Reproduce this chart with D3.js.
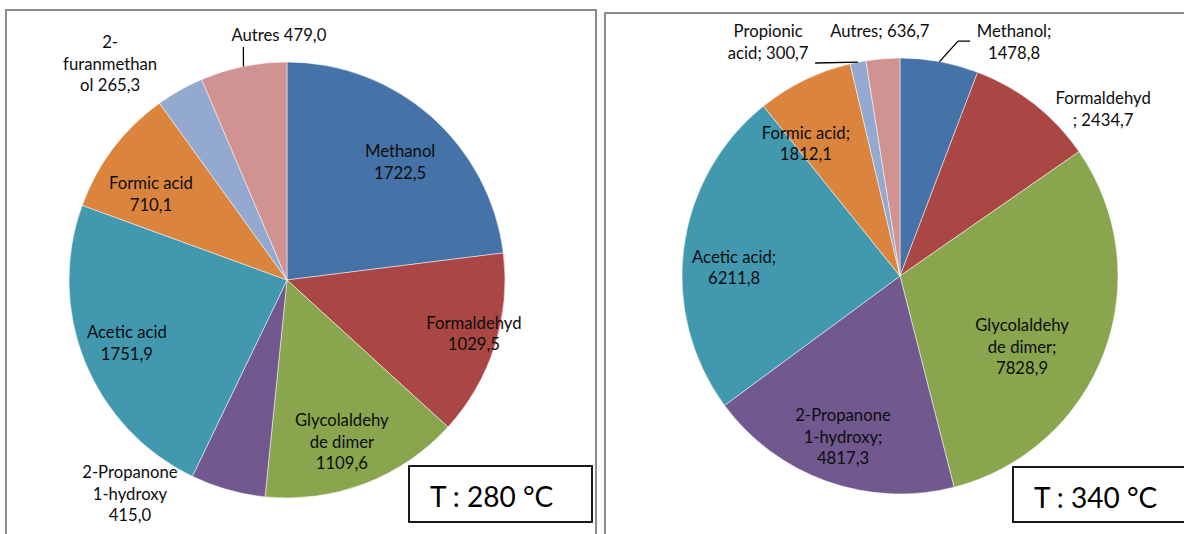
<!DOCTYPE html>
<html><head><meta charset="utf-8">
<script src="https://cdn.jsdelivr.net/npm/d3@7"></script>
<style>body{margin:0;background:#fff}svg{display:block}</style>
</head><body>
<svg id="chart" width="1184" height="534"></svg>
<script>
// ---------- DATA ----------
const categories280 = ["Methanol","Formaldehyd","Glycolaldehyde dimer","2-Propanone 1-hydroxy","Acetic acid","Formic acid","2-furanmethanol","Autres"];
const values280 = [1722.5, 1029.5, 1109.6, 415.0, 1751.9, 710.1, 265.3, 479.0];
const labelLines280 = [["Methanol","{v}"],["Formaldehyd","{v}"],["Glycolaldehy","de dimer","{v}"],["2-Propanone","1-hydroxy","{v}"],["Acetic acid","{v}"],["Formic acid","{v}"],["2-","furanmethan","ol {v}"],["Autres {v}"]];

const categories340 = ["Methanol","Formaldehyd","Glycolaldehyde dimer","2-Propanone 1-hydroxy","Acetic acid","Formic acid","Propionic acid","Autres"];
const values340 = [1478.8, 2434.7, 7828.9, 4817.3, 6211.8, 1812.1, 300.7, 636.7];
const labelLines340 = [["Methanol;","{v}"],["Formaldehyd","; {v}"],["Glycolaldehy","de dimer;","{v}"],["2-Propanone","1-hydroxy;","{v}"],["Acetic acid;","{v}"],["Formic acid;","{v}"],["Propionic","acid; {v}"],["Autres; {v}"]];

const titles = ["T : 280 °C", "T : 340 °C"];

// ---------- LAYOUT / STYLE ----------
const colors = ["#4572A7","#AA4643","#89A54E","#71588F","#4198AF","#DB843D","#93A9CF","#D19392"];
const FONT = "Lato, 'Open Sans', sans-serif";
const FS = 16.7, LH = 21.5;
// label placement: [angle in degrees (clockwise from 12 o'clock), radius factor]
const labelPolar280 = [[43.8,0.750],[106.0,0.892],[161.3,0.785],[216.3,1.217],[248.4,0.790],[302.3,0.738],[320.7,1.281],[358.1,1.124]];
const labelPolar340 = [[26.0,1.194],[50.6,1.206],[120.2,0.648],[199.5,0.783],[272.9,0.762],[324.6,0.745],[330.6,1.232],[355.3,1.128]];
// leader lines: slice index -> list of offsets relative to the label centre
const leaders280 = {7: [[-35.5, 12]]};
const leaders340 = {0: [[-56,-1],[-44,-1]], 6: [[47,21]]};

const panels = [
  {values: values280, cats: categories280, lines: labelLines280, polar: labelPolar280, leaders: leaders280, title: titles[0],
   frame: [6,10,590,600], cx: 287, cy: 280, r: 218, box: [409,466,183,56]},
  {values: values340, cats: categories340, lines: labelLines340, polar: labelPolar340, leaders: leaders340, title: titles[1],
   frame: [605,13,640,600], cx: 900, cy: 276, r: 218, box: [1013,467,200,55]}
];

const svg = d3.select("#chart");
const fmt = v => d3.format(".1f")(v).replace(".", ",");
const deg = d => d * Math.PI / 180;

panels.forEach(p => {
  svg.append("rect").attr("x", p.frame[0]).attr("y", p.frame[1]).attr("width", p.frame[2]).attr("height", p.frame[3])
    .attr("fill", "#fff").attr("stroke", "#8c8c8c").attr("stroke-width", 2);

  const g = svg.append("g").attr("transform", `translate(${p.cx},${p.cy})`);
  const pie = d3.pie().sort(null).value(d => d)(p.values);
  const arc = d3.arc().innerRadius(0).outerRadius(p.r);
  g.selectAll("path.slice").data(pie).join("path").attr("class","slice")
    .attr("d", arc).attr("fill", (d,i) => colors[i]).attr("stroke", "#ffffff").attr("stroke-width", 0.5);

  pie.forEach((d, i) => {
    const [lx, ly] = d3.pointRadial(deg(p.polar[i][0]), p.polar[i][1] * p.r);
    const lines = p.lines[i].map(s => s.replace("{v}", fmt(p.values[i])));
    const t = g.append("text").attr("text-anchor", "middle").attr("font-family", FONT)
      .attr("font-size", FS).attr("fill", "#0d0d0d");
    lines.forEach((s, k) => {
      t.append("tspan").attr("x", lx).attr("y", ly + (k - (lines.length - 1) / 2) * LH + FS * 0.35).text(s);
    });
    if (p.leaders[i]) {
      const mid = (d.startAngle + d.endAngle) / 2;
      const pts = [d3.pointRadial(mid, p.r)].concat(p.leaders[i].map(o => [lx + o[0], ly + o[1]]));
      g.append("path").attr("d", d3.line()(pts)).attr("fill", "none").attr("stroke", "#000").attr("stroke-width", 1.3);
    }
  });

  svg.append("rect").attr("x", p.box[0]).attr("y", p.box[1]).attr("width", p.box[2]).attr("height", p.box[3])
    .attr("fill", "#fff").attr("stroke", "#000").attr("stroke-width", 1.8);
  svg.append("text").attr("x", p.box[0] + 21).attr("y", p.box[1] + 41)
    .attr("font-family", FONT).attr("font-size", 28).attr("fill", "#000").text(p.title);
});
</script>
</body></html>
